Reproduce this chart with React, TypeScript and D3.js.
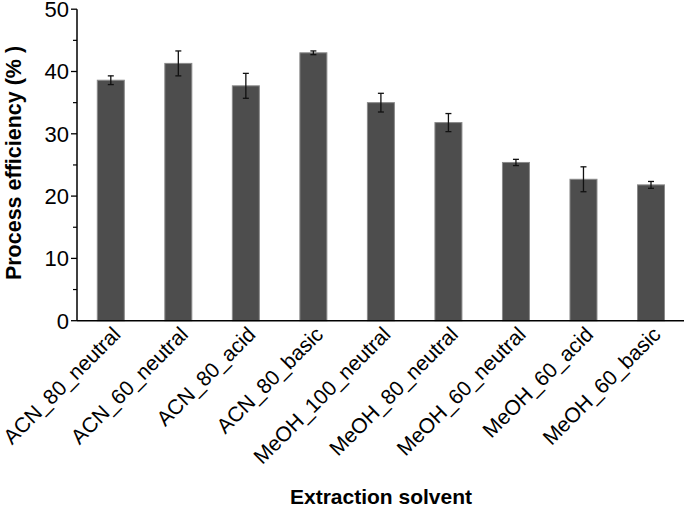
import React from "react";
import * as d3 from "d3";

const categories = [
  "ACN_80_neutral",
  "ACN_60_neutral",
  "ACN_80_acid",
  "ACN_80_basic",
  "MeOH_100_neutral",
  "MeOH_80_neutral",
  "MeOH_60_neutral",
  "MeOH_60_acid",
  "MeOH_60_basic",
];
const values = [38.6, 41.3, 37.7, 43.0, 35.0, 31.8, 25.4, 22.7, 21.8];
const errors = [0.7, 2.0, 2.0, 0.3, 1.5, 1.45, 0.5, 2.0, 0.55];
const majorTicks = [0, 10, 20, 30, 40, 50];
const minorTicks = [5, 15, 25, 35, 45];

const W = 688;
const H = 509;
const left = 77;
const right = 684;
const top = 9.2;
const bottom = 320.7;

export default function App() {
  const x = d3.scalePoint<string>().domain(categories).range([110.8, 651]);
  const y = d3.scaleLinear().domain([0, 50]).range([bottom, top]);
  const bw = 27;
  const font = "'Liberation Sans', Arial, sans-serif";
  return (
    <svg width={W} height={H} style={{ position: "absolute", left: 0, top: 0 }} fontFamily={font}>
      <rect width={W} height={H} fill="#fff" />
      {categories.map((c, i) => {
        const cx = x(c)!;
        const v = values[i];
        const e = errors[i];
        return (
          <g key={c}>
            <rect
              x={cx - bw / 2}
              y={y(v)}
              width={bw}
              height={bottom - y(v)}
              fill="#4d4d4d"
              stroke="#8a8a8a"
              strokeWidth={1}
            />
            <line x1={cx} x2={cx} y1={y(v + e)} y2={y(v - e)} stroke="#111" strokeWidth={1.3} />
            <line x1={cx - 3} x2={cx + 3} y1={y(v + e)} y2={y(v + e)} stroke="#111" strokeWidth={1.3} />
            <line x1={cx - 3} x2={cx + 3} y1={y(v - e)} y2={y(v - e)} stroke="#111" strokeWidth={1.3} />
            <text
              transform={`translate(${cx + 11},${bottom + 15}) rotate(-45)`}
              textAnchor="end"
              fontSize={21}
              fill="#000"
            >
              {c}
            </text>
          </g>
        );
      })}
      <line x1={left} x2={left} y1={top} y2={bottom} stroke="#000" strokeWidth={1.5} />
      <line x1={left} x2={right} y1={bottom} y2={bottom} stroke="#000" strokeWidth={1.5} />
      {majorTicks.map((t) => (
        <g key={t}>
          <line x1={left - 6} x2={left} y1={y(t)} y2={y(t)} stroke="#000" strokeWidth={1.3} />
          <text x={left - 8} y={y(t)} dy="0.36em" textAnchor="end" fontSize={22}>
            {t}
          </text>
        </g>
      ))}
      {minorTicks.map((t) => (
        <line key={t} x1={left - 4} x2={left} y1={y(t)} y2={y(t)} stroke="#000" strokeWidth={1.2} />
      ))}
      <text
        transform={`translate(21,163) rotate(-90)`}
        textAnchor="middle"
        fontSize={21.5}
        fontWeight="bold"
      >
        Process efficiency (% )
      </text>
      <text x={381} y={504} textAnchor="middle" fontSize={21} fontWeight="bold">
        Extraction solvent
      </text>
    </svg>
  );
}
